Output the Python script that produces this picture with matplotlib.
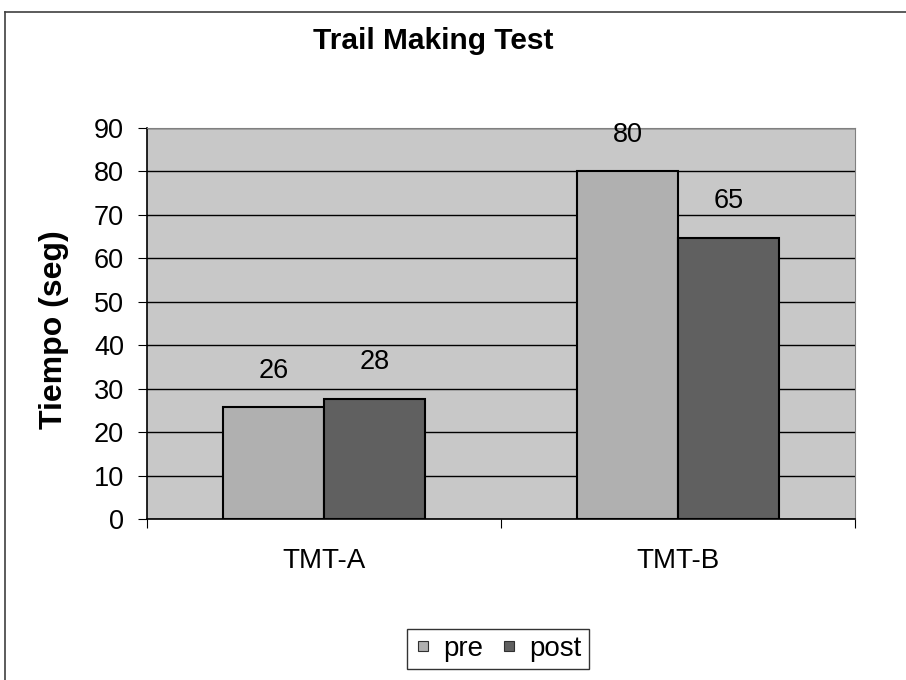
import matplotlib.pyplot as plt
from matplotlib.lines import Line2D
import numpy as np

plt.rcParams['font.family'] = ['Liberation Sans', 'DejaVu Sans']

# data
categories = ["TMT-A", "TMT-B"]
pre = [25.7, 80.0]
post = [27.6, 64.7]
series_names = ["pre", "post"]

fig = plt.figure(figsize=(9.06, 6.8), dpi=100)
ax = fig.add_axes([0.1623, 0.2368, 0.7814, 0.575])

x = np.arange(len(categories))
w = 0.285
b1 = ax.bar(x - w / 2, pre, w, color="#b0b0b0", edgecolor="black", linewidth=1.5, label=series_names[0], zorder=3)
b2 = ax.bar(x + w / 2, post, w, color="#606060", edgecolor="black", linewidth=1.5, label=series_names[1], zorder=3)

for bars, vals in [(b1, pre), (b2, post)]:
    for r, v in zip(bars, vals):
        ax.annotate(f"{round(v):d}", (r.get_x() + r.get_width() / 2, v),
                    xytext=(0, 17), textcoords="offset points",
                    ha="center", va="bottom", fontsize=19.5)

ax.set_facecolor("#c8c8c8")
ax.set_xlim(-0.5, 1.5)
ax.set_ylim(0, 90)
ax.set_yticks(range(0, 91, 10))
ax.yaxis.grid(True, color="black", linewidth=1, zorder=0)
ax.set_axisbelow(True)
ax.set_xticks([-0.5, 0.5, 1.5])
ax.set_xticklabels([])
ax.set_xticks(x, minor=True)
ax.set_xticklabels(categories, minor=True)
ax.tick_params(axis="x", which="minor", length=0, pad=21, labelsize=20)
ax.tick_params(axis="x", which="major", length=6.5, direction="out")
ax.tick_params(axis="y", labelsize=19.5, length=6.5, pad=10)
for s in ["top", "right"]:
    ax.spines[s].set_color("#808080")
ax.spines["left"].set_linewidth(1.2)
ax.spines["bottom"].set_linewidth(1.2)

ax.set_ylabel("Tiempo (seg)", fontsize=23, fontweight="bold")
ax.yaxis.set_label_coords(-(147 - 69) / 708, (519 - 330) / 391)
fig.text(433 / 906, 1 - 41 / 680, "Trail Making Test", ha="center", va="center",
         fontsize=21.5, fontweight="bold")

handles = [Line2D([], [], marker="s", linestyle="none", markersize=7,
                  markerfacecolor=c, markeredgecolor="#303030", markeredgewidth=0.8)
           for c in ["#b0b0b0", "#606060"]]
leg = fig.legend(handles, series_names, loc="center", bbox_to_anchor=(498 / 906, 1 - 649 / 680),
                 ncol=2, fontsize=20, frameon=True, fancybox=False, edgecolor="black",
                 handlelength=0.6, handletextpad=0.45, columnspacing=0.6, borderpad=0.25,
                 borderaxespad=0)
leg.get_frame().set_linewidth(1)

# outer chart border (top and left visible)
fig.add_artist(Line2D([5 / 906, 5 / 906], [0, 1 - 12 / 680], color="#404040", linewidth=1.2))
fig.add_artist(Line2D([5 / 906, 1], [1 - 12 / 680, 1 - 12 / 680], color="#404040", linewidth=1.2))

fig.savefig("out.png", dpi=100)
